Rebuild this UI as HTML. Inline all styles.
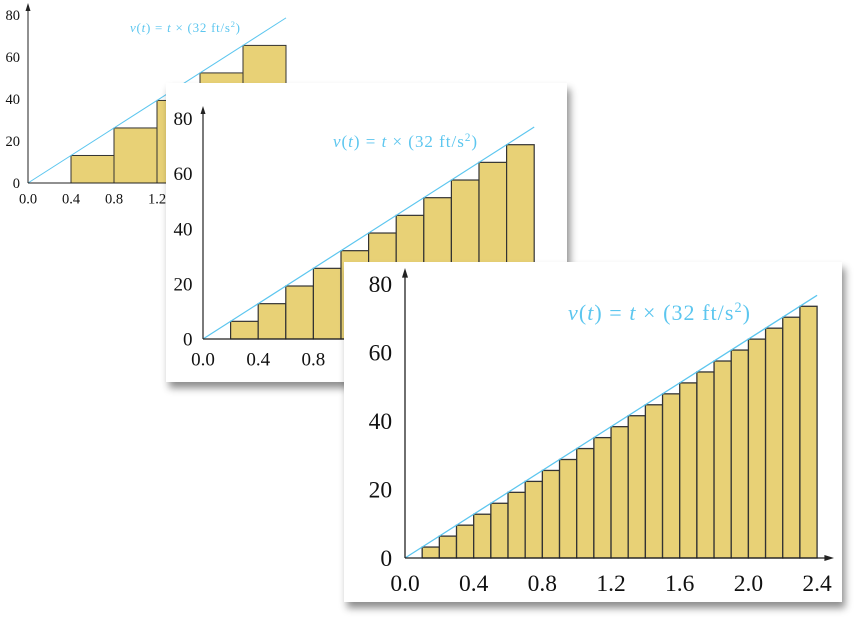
<!DOCTYPE html>
<html><head><meta charset="utf-8"><style>
html,body{margin:0;padding:0;background:#fff;}
svg{display:block;font-family:"Liberation Serif",serif;}
</style></head><body>
<svg id="chart" width="859" height="621" viewBox="0 0 859 621">
<defs><filter id="sh" x="-10%" y="-10%" width="125%" height="130%"><feDropShadow dx="3" dy="6" stdDeviation="4" flood-color="#000" flood-opacity="0.45"/></filter></defs>
</svg>
<script>
const p1Starts=[0.4,0.8,1.2,1.6,2.0];
const p1Values=[12.8,25.6,38.4,51.2,64];
const p2Starts=[0.2,0.4,0.6,0.8,1.0,1.2,1.4,1.6,1.8,2.0,2.2];
const p2Values=[6.4,12.8,19.2,25.6,32,38.4,44.8,51.2,57.6,64,70.4];
const p3Starts=[0.1,0.2,0.3,0.4,0.5,0.6,0.7,0.8,0.9,1.0,1.1,1.2,1.3,1.4,1.5,1.6,1.7,1.8,1.9,2.0,2.1,2.2,2.3];
const p3Values=[3.2,6.4,9.6,12.8,16,19.2,22.4,25.6,28.8,32,35.2,38.4,41.6,44.8,48,51.2,54.4,57.6,60.8,64,67.2,70.4,73.6];
const xTicks=[0.0,0.4,0.8,1.2,1.6,2.0,2.4];
const yTicks=[0,20,40,60,80];
const lineEnd=[2.4,76.8];

const NS="http://www.w3.org/2000/svg";
const svg=document.getElementById('chart');
function mk(tag,attrs,parent){const e=document.createElementNS(NS,tag);for(const k in attrs)e.setAttribute(k,attrs[k]);parent.appendChild(e);return e;}

function panel(id,c,starts,values,width){
  const g=mk('g',{},svg);
  
  
  if(c.box){const r=mk('rect',{x:c.box[0],y:c.box[1],width:c.box[2],height:c.box[3],fill:'#fff',filter:'url(#sh)'},g);
    
    }
  const X=t=>c.ox+t*c.sx, Y=v=>c.oy-v*c.sy;
  starts.forEach((s,i)=>{const b=mk('rect',{x:X(s),y:Y(values[i]),width:X(s+width)-X(s),height:Y(0)-Y(values[i]),fill:'#e8d176',stroke:'#333','stroke-width':c.sw},g);
    
    });
  const l=mk('line',{x1:X(0),y1:Y(0),x2:X(lineEnd[0]),y2:Y(lineEnd[1]),stroke:'#5cc6ef','stroke-width':c.sw},g);
  
  
  const ya=mk('line',{x1:X(0),y1:Y(0),x2:X(0),y2:c.ytop+4,stroke:'#222','stroke-width':c.sw},g);
  
  
  mk('path',{d:`M${X(0)-c.ah/2},${c.ytop+c.ah*1.6} L${X(0)},${c.ytop} L${X(0)+c.ah/2},${c.ytop+c.ah*1.6}Z`,fill:'#222'},g);
  const xa=mk('line',{x1:X(0),y1:Y(0),x2:c.xend-4,y2:Y(0),stroke:'#222','stroke-width':c.sw},g);
  
  
  mk('path',{d:`M${c.xend-c.ah*1.6},${Y(0)-c.ah/2} L${c.xend},${Y(0)} L${c.xend-c.ah*1.6},${Y(0)+c.ah/2}Z`,fill:'#222'},g);
  yTicks.forEach(v=>{const t=mk('text',{x:X(0)-c.fs*0.55,y:c.oy-v*c.lsy+c.fs*0.35,'text-anchor':'end','font-size':c.fs,fill:'#111'},g);
    t.textContent=v;
    
    });
  xTicks.forEach(v=>{const t=mk('text',{x:X(v),y:Y(0)+c.fs*1.4,'text-anchor':'middle','font-size':c.fs,fill:'#111'},g);
    t.textContent=v.toFixed(1);
    
    });
  const lb=mk('text',{x:c.lx,y:c.ly,'font-size':c.lfs,fill:'#5cc6ef',textLength:c.lw,lengthAdjust:'spacing'},g);
  lb.innerHTML='<tspan font-style="italic">v</tspan>(<tspan font-style="italic">t</tspan>) = <tspan font-style="italic">t</tspan> × (32 ft/s<tspan baseline-shift="super" font-size="'+(c.lfs*0.65)+'">2</tspan>)';
  
  
}
panel('panel-step-0-4',{ox:28,oy:183,sx:107.5,sy:2.15,lsy:2.1,sw:1,ah:5,ytop:3,xend:300,fs:14.5,lx:130,ly:32,lfs:13,lw:110},p1Starts,p1Values,0.4);
panel('panel-step-0-2',{box:[166,83,401,299],ox:203,oy:339,sx:138,sy:2.76,lsy:2.76,sw:1.2,ah:5,ytop:106,xend:560,fs:19,lx:333,ly:147,lfs:17,lw:144},p2Starts,p2Values,0.2);
panel('panel-step-0-1',{box:[344,262,498,340],ox:405,oy:558,sx:171.7,sy:3.42,lsy:3.43,sw:1.3,ah:6,ytop:268,xend:834,fs:23.5,lx:568,ly:320,lfs:22,lw:182},p3Starts,p3Values,0.1);
</script>
</body></html>
